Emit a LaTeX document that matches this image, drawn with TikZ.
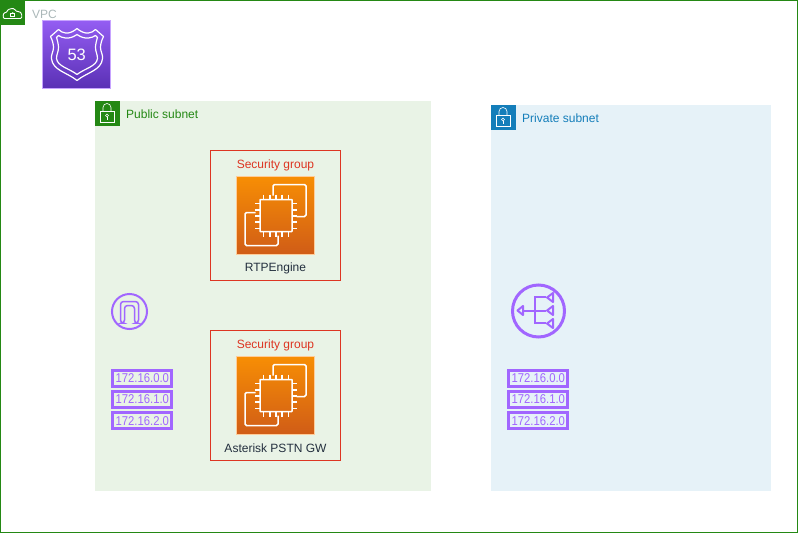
\documentclass[tikz,border=0pt]{standalone}
\usepackage{xcolor}
\usepackage{fontspec}
\setmainfont{Liberation Sans}
\usetikzlibrary{shapes.geometric, positioning, calc, backgrounds}
\definecolor{vpcgreen}{RGB}{36,136,20}
\definecolor{subnetblue}{RGB}{20,126,186}
\definecolor{publicfill}{RGB}{233,243,230}
\definecolor{privatefill}{RGB}{230,242,248}
\definecolor{sgred}{RGB}{221,53,34}
\definecolor{awspurple}{RGB}{161,102,255}
\definecolor{vpcgray}{RGB}{170,183,184}
\definecolor{labeldark}{RGB}{35,47,62}
\tikzset{
    container/.style={rectangle,anchor=north west,inner sep=0pt,outer sep=0pt},
    badge/.style={rectangle,anchor=north west,minimum width=25pt,minimum height=25pt,inner sep=0pt,outer sep=0pt},
    sgbox/.style={rectangle,draw,color=sgred,line width=1pt,minimum width=130pt,minimum height=130pt,anchor=north west,inner sep=0pt,outer sep=0pt},
    caption/.style={font=\fontsize{12}{14}\selectfont,inner sep=0pt},
    cidrbox/.style={rectangle,draw=awspurple,line width=3pt,minimum width=59pt,minimum height=16pt,inner sep=0pt,outer sep=0pt,text=awspurple,font=\fontsize{11.3}{13}\selectfont},
    ec2box/.style={rectangle,draw=orange!40,line width=.5pt,top color={rgb,255:red,247;green,142;blue,4},bottom color={rgb,255:red,208;green,92;blue,23},minimum width=78pt,minimum height=78pt,anchor=north west,inner sep=0pt,outer sep=0pt},
    iconline/.style={draw=white,line width=1.5pt,rounded corners=1.5pt},
    purpleline/.style={draw=awspurple,line width=2pt}
}
% chip with its two back squares, origin in the box corner
\tikzset{
    pics/ec2chip/.style={code={
        \draw[iconline,rounded corners=.5pt] (23.5,23) rectangle (55.5,55);
        \draw[iconline] (36.5,19) -- (36.5,8) -- (69.5,8) -- (69.5,40) -- (60,40);
        \draw[iconline] (19,36) -- (8.5,36) -- (8.5,69) -- (41.5,69) -- (41.5,59);
        \foreach \p in {27,33.5,39.5,45.5,52} {
            \draw[draw=white,line width=1.3pt] (\p,18) -- (\p,23);
            \draw[draw=white,line width=1.3pt] (\p,55) -- (\p,60);
            \draw[draw=white,line width=1.3pt] (18.5,\p) -- (23.5,\p);
            \draw[draw=white,line width=1.3pt] (55.5,\p) -- (60.5,\p);
        }
    }},
    pics/lockicon/.style={code={
        \draw[white,line width=.6pt] (5.5,10.5) rectangle (19.5,22);
        \draw[white,line width=.6pt] (8.5,10.5) -- (8.5,7) arc (180:360:4) -- (16.5,10.5);
        \draw[white,line width=.6pt] (12.5,15) circle (1.5);
        \draw[white,line width=.6pt] (12.5,16.5) -- (12.5,19);
    }}
}
\begin{document}
\begin{tikzpicture}[x=1pt,y=-1pt]
    \useasboundingbox (0,0) rectangle (798,533);

    % VPC
    \node[rectangle,draw,color=vpcgreen,line width=1pt,minimum width=797pt,minimum height=532pt,anchor=north west,inner sep=0pt,outer sep=0pt] (vpc) at (.5,.5) {};
    \node[badge,fill=vpcgreen] (vpcbadge) at (0,0) {};
    \draw[white,line width=.9pt,rounded corners=2.5pt] (7,18.5) .. controls (2.5,18.5) and (3,13) .. (7,12.8) .. controls (8,9) and (14,7.5) .. (16,12) .. controls (22,11) and (23,18.5) .. (18,18.5) -- cycle;
    \draw[white,line width=.7pt] (10.5,13.8) rectangle (14.8,16.8);
    \draw[white,line width=.6pt] (11.4,13.8) arc (180:360:1.25);
    \node[caption,text=vpcgray,anchor=west] (vpclabel) at (32,14) {VPC};

    % Route 53
    \node[rectangle,draw=awspurple!60,line width=.5pt,top color={rgb,255:red,148;green,93;blue,242},bottom color={rgb,255:red,90;green,48;blue,181},minimum width=68pt,minimum height=68pt,anchor=north west,inner sep=0pt,outer sep=0pt] (route) at (42.5,20.5) {};
    \begin{scope}[shift={(route.north west)}]
        \draw[white,line width=1.2pt,line join=round] (34.5,8) .. controls (31,11) and (27,13) .. (23,12.5) .. controls (20,12) and (18,11) .. (16,9) -- (8,16) .. controls (10,20) and (11,24) .. (11,27) .. controls (11,31) and (8.5,34) .. (9,38) .. controls (10,50) and (25,52) .. (34.5,60) .. controls (44,52) and (59,50) .. (60,38) .. controls (60.5,34) and (58,31) .. (58,27) .. controls (58,24) and (59,20) .. (61,16) -- (53,9) .. controls (51,11) and (49,12) .. (46,12.5) .. controls (42,13) and (38,11) .. (34.5,8) -- cycle;
        \draw[white,line width=1.2pt,line join=round] (34.5,14) .. controls (31,16.5) and (27,18) .. (23,17.5) .. controls (20,17) and (18,16.5) .. (16,15) -- (14,17) .. controls (15,20) and (16,24) .. (16,27) .. controls (16,31) and (14,34) .. (14,38) .. controls (15,46) and (27,48) .. (34.5,54) .. controls (42,48) and (54,46) .. (55,38) .. controls (55,34) and (53,31) .. (53,27) .. controls (53,24) and (54,20) .. (55,17) -- (53,15) .. controls (51,16.5) and (49,17) .. (46,17.5) .. controls (42,18) and (38,16.5) .. (34.5,14) -- cycle;
    \end{scope}
    \node[text=white,font=\fontsize{16.5}{18}\selectfont,inner sep=0pt] (routelabel) at (76.7,54.5) {53};

    % Public subnet
    \node[container,fill=publicfill,minimum width=336pt,minimum height=390pt] (public) at (94.5,100.5) {};
    \node[badge,fill=vpcgreen] (publicbadge) at (94.5,100.5) {};
    \pic at (publicbadge.north west) {lockicon};
    \node[caption,text=vpcgreen,anchor=west] (publiclabel) at (126,114) {Public subnet};

    % Private subnet
    \node[container,fill=privatefill,minimum width=280pt,minimum height=386pt] (private) at (490.5,104.5) {};
    \node[badge,fill=subnetblue] (privatebadge) at (490.5,104.5) {};
    \pic at (privatebadge.north west) {lockicon};
    \node[caption,text=subnetblue,anchor=west] (privatelabel) at (522,118) {Private subnet};

    % RTPEngine
    \node[sgbox] (sgone) at (210.5,150.5) {};
    \node[caption,text=sgred] (sgonelabel) at (275.5,165) {Security group};
    \node[ec2box] (rtp) at (236.5,176.5) {};
    \pic at (rtp.north west) {ec2chip};
    \node[caption,text=labeldark] (rtplabel) at (275.5,268.5) {RTPEngine};

    % Asterisk
    \node[sgbox] (sgtwo) at (210.5,330.5) {};
    \node[caption,text=sgred] (sgtwolabel) at (275.5,345) {Security group};
    \node[ec2box] (asterisk) at (236.5,356.5) {};
    \pic at (asterisk.north west) {ec2chip};
    \node[caption,text=labeldark] (asterisklabel) at (275.5,448.5) {Asterisk PSTN GW};

    % Internet gateway
    \node[circle,purpleline,minimum size=35pt,inner sep=0pt,outer sep=0pt] (igw) at (129.5,311.5) {};
    \draw[draw=awspurple,line width=1.5pt,rounded corners=3pt] (120.5,323) -- (120.5,301.5) -- (138.5,301.5) -- (138.5,323) -- (134.5,323) -- (134.5,305.5) -- (124.5,305.5) -- (124.5,323) -- cycle;

    % NAT gateway
    \node[circle,draw=awspurple,line width=3pt,minimum size=52pt,inner sep=0pt,outer sep=0pt] (nat) at (538.5,311) {};
    \draw[purpleline] (523,310.5) -- (546,310.5);
    \draw[purpleline] (546,297) -- (535,297) -- (535,323) -- (546,323);
    \foreach \y in {297.5,310.5,323.5} {
        \draw[purpleline,line join=round] (553,\y-4.5) -- (553,\y+4.5) -- (547,\y) -- cycle;
    }
    \draw[purpleline,line join=round] (523,306) -- (523,315) -- (517.5,310.5) -- cycle;

    % Subnet ranges
    \foreach \x/\n in {142.3/pub,538.3/priv} {
        \node[cidrbox] (\n a) at (\x,378.3) {\scalebox{1}[1.13]{172.16.0.0}};
        \node[cidrbox] (\n b) at (\x,399.5) {\scalebox{1}[1.13]{172.16.1.0}};
        \node[cidrbox] (\n c) at (\x,420.8) {\scalebox{1}[1.13]{172.16.2.0}};
    }
\end{tikzpicture}
\end{document}
